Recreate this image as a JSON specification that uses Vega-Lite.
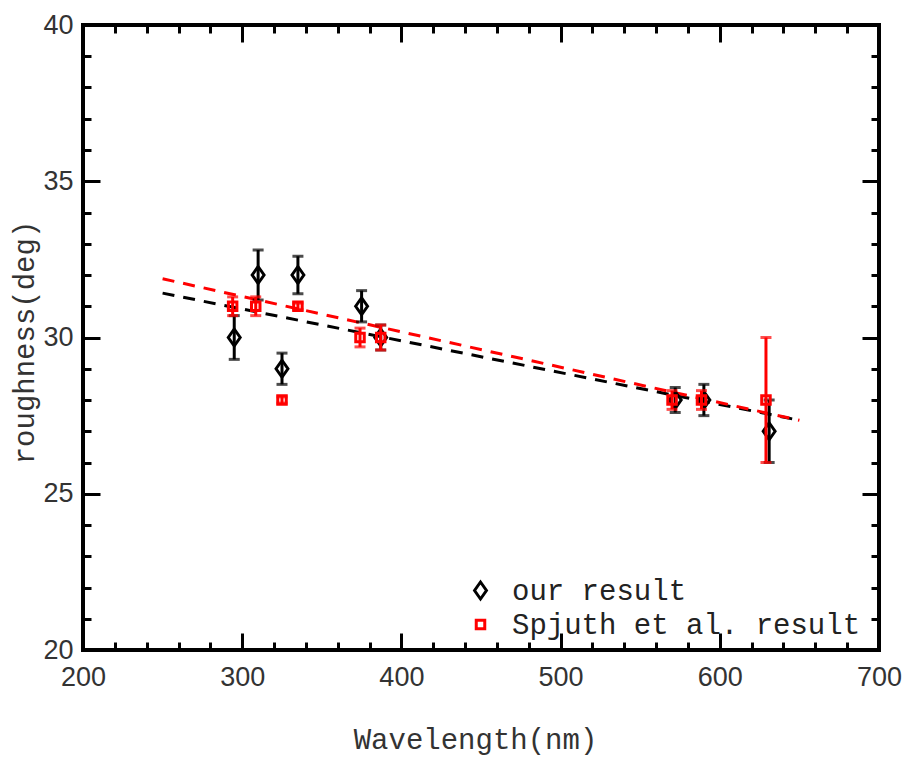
{
  "$schema": "https://vega.github.io/schema/vega-lite/v6.json",
  "width": 796,
  "height": 625,
  "autosize": {"type": "none"},
  "padding": {"left": 83, "top": 25, "right": 30, "bottom": 108},
  "background": "white",
  "config": {
    "view": {"stroke": "#000000", "strokeWidth": 4},
    "axis": {"grid": false, "domain": false, "labelFlush": false, "labelOverlap": false, "tickColor": "#000000", "tickWidth": 3, "labelFont": "Liberation Sans", "labelFontSize": 27, "labelColor": "#333333", "titleFont": "Liberation Mono", "titleFontSize": 29, "titleFontWeight": "normal", "titleColor": "#333333"},
    "legend": {"orient": "none", "legendX": 383, "legendY": 551, "padding": 0, "title": null, "labelFont": "Liberation Mono", "labelFontSize": 29, "labelColor": "#222222", "labelLimit": 0, "symbolSize": 289, "symbolStrokeWidth": 3, "labelOffset": 17, "rowPadding": 4}
  },
  "datasets": {
    "our": [
      {"series": "our result", "wl": 295, "rough": 30, "lo": 29.3, "hi": 30.7},
      {"series": "our result", "wl": 310, "rough": 32, "lo": 31.2, "hi": 32.8},
      {"series": "our result", "wl": 325, "rough": 29, "lo": 28.5, "hi": 29.5},
      {"series": "our result", "wl": 335, "rough": 32, "lo": 31.4, "hi": 32.6},
      {"series": "our result", "wl": 375, "rough": 31, "lo": 30.5, "hi": 31.5},
      {"series": "our result", "wl": 387, "rough": 30, "lo": 29.6, "hi": 30.4},
      {"series": "our result", "wl": 572, "rough": 28, "lo": 27.6, "hi": 28.4},
      {"series": "our result", "wl": 590, "rough": 28, "lo": 27.5, "hi": 28.5},
      {"series": "our result", "wl": 631, "rough": 27, "lo": 26, "hi": 28}
    ],
    "spj": [
      {"series": "Spjuth et al. result", "wl": 294, "rough": 31, "lo": 30.7, "hi": 31.3},
      {"series": "Spjuth et al. result", "wl": 308.5, "rough": 31, "lo": 30.7, "hi": 31.3},
      {"series": "Spjuth et al. result", "wl": 325, "rough": 28, "lo": 27.9, "hi": 28.1},
      {"series": "Spjuth et al. result", "wl": 335, "rough": 31, "lo": 30.9, "hi": 31.1},
      {"series": "Spjuth et al. result", "wl": 374, "rough": 30, "lo": 29.7, "hi": 30.3},
      {"series": "Spjuth et al. result", "wl": 387, "rough": 30, "lo": 29.6, "hi": 30.4},
      {"series": "Spjuth et al. result", "wl": 570, "rough": 28, "lo": 27.7, "hi": 28.3},
      {"series": "Spjuth et al. result", "wl": 588.5, "rough": 28, "lo": 27.7, "hi": 28.3},
      {"series": "Spjuth et al. result", "wl": 629, "rough": 28, "lo": 26, "hi": 30}
    ],
    "fitOur": [
      {"wl": 250, "rough": 31.42},
      {"wl": 650, "rough": 27.35}
    ],
    "fitSpj": [
      {"wl": 250, "rough": 31.88},
      {"wl": 650, "rough": 27.35}
    ]
  },
  "resolve": {"axis": {"x": "independent", "y": "independent"}},
  "layer": [
    {
      "data": {"name": "fitOur"},
      "mark": {"type": "line", "color": "#000000", "strokeWidth": 3, "strokeDash": [12, 9]},
      "encoding": {
        "x": {"field": "wl", "type": "quantitative", "scale": {"domain": [200, 700], "nice": false, "zero": false},
              "axis": {"orient": "bottom", "values": [200, 300, 400, 500, 600, 700], "ticks": false, "labelPadding": 14, "title": "Wavelength(nm)", "titleX": 392, "titleY": 98, "titleBaseline": "alphabetic", "titleAlign": "center"}},
        "y": {"field": "rough", "type": "quantitative", "scale": {"domain": [20, 40], "nice": false, "zero": false},
              "axis": {"orient": "left", "values": [20, 25, 30, 35, 40], "ticks": false, "labelPadding": 10, "title": "roughness(deg)", "titleX": -50, "titleY": 317, "titleAngle": -90, "titleBaseline": "alphabetic", "titleAlign": "center"}}
      }
    },
    {
      "data": {"name": "fitSpj"},
      "mark": {"type": "line", "color": "#ff0000", "strokeWidth": 3, "strokeDash": [12, 9]},
      "encoding": {
        "x": {"field": "wl", "type": "quantitative", "scale": {"domain": [200, 700], "nice": false, "zero": false},
              "axis": {"orient": "bottom", "values": [200, 300, 400, 500, 600, 700], "labels": false, "tickSize": -17, "title": null}},
        "y": {"field": "rough", "type": "quantitative", "scale": {"domain": [20, 40], "nice": false, "zero": false},
              "axis": {"orient": "left", "values": [20, 25, 30, 35, 40], "labels": false, "tickSize": -17, "title": null}}
      }
    },
    {
      "data": {"name": "our"},
      "mark": {"type": "rule", "color": "#000000", "strokeWidth": 3},
      "encoding": {
        "x": {"field": "wl", "type": "quantitative", "scale": {"domain": [200, 700], "nice": false, "zero": false},
              "axis": {"orient": "top", "values": [200, 300, 400, 500, 600, 700], "labels": false, "tickSize": -17, "title": null}},
        "y": {"field": "lo", "type": "quantitative", "scale": {"domain": [20, 40], "nice": false, "zero": false},
              "axis": {"orient": "right", "values": [20, 25, 30, 35, 40], "labels": false, "tickSize": -17, "title": null}},
        "y2": {"field": "hi"}
      }
    },
    {
      "data": {"name": "our"},
      "transform": [{"fold": ["lo", "hi"], "as": ["end", "val"]}],
      "mark": {"type": "tick", "orient": "horizontal", "color": "#000000", "size": 11, "thickness": 3},
      "encoding": {
        "x": {"field": "wl", "type": "quantitative", "scale": {"domain": [200, 700], "nice": false, "zero": false},
              "axis": {"orient": "bottom", "values": [200, 220, 240, 260, 280, 300, 320, 340, 360, 380, 400, 420, 440, 460, 480, 500, 520, 540, 560, 580, 600, 620, 640, 660, 680, 700], "labels": false, "tickSize": -8, "title": null}},
        "y": {"field": "val", "type": "quantitative", "scale": {"domain": [20, 40], "nice": false, "zero": false},
              "axis": {"orient": "left", "values": [20, 21, 22, 23, 24, 25, 26, 27, 28, 29, 30, 31, 32, 33, 34, 35, 36, 37, 38, 39, 40], "labels": false, "tickSize": -8, "title": null}}
      }
    },
    {
      "data": {"name": "our"},
      "mark": {"type": "point", "filled": false, "strokeWidth": 3, "size": 289, "opacity": 1},
      "encoding": {
        "x": {"field": "wl", "type": "quantitative", "scale": {"domain": [200, 700], "nice": false, "zero": false},
              "axis": {"orient": "top", "values": [200, 220, 240, 260, 280, 300, 320, 340, 360, 380, 400, 420, 440, 460, 480, 500, 520, 540, 560, 580, 600, 620, 640, 660, 680, 700], "labels": false, "tickSize": -8, "title": null}},
        "y": {"field": "rough", "type": "quantitative", "scale": {"domain": [20, 40], "nice": false, "zero": false},
              "axis": {"orient": "right", "values": [20, 21, 22, 23, 24, 25, 26, 27, 28, 29, 30, 31, 32, 33, 34, 35, 36, 37, 38, 39, 40], "labels": false, "tickSize": -8, "title": null}},
        "color": {"field": "series", "type": "nominal", "scale": {"domain": ["our result", "Spjuth et al. result"], "range": ["#000000", "#ff0000"]}},
        "shape": {"field": "series", "type": "nominal", "scale": {"domain": ["our result", "Spjuth et al. result"], "range": ["M0,-1L0.7,0L0,1L-0.7,0Z", "M-0.5,-0.5H0.5V0.5H-0.5Z"]}}
      }
    },
    {
      "data": {"name": "spj"},
      "mark": {"type": "rule", "color": "#ff0000", "strokeWidth": 3},
      "encoding": {
        "x": {"field": "wl", "type": "quantitative", "scale": {"domain": [200, 700], "nice": false, "zero": false}, "axis": null},
        "y": {"field": "lo", "type": "quantitative", "scale": {"domain": [20, 40], "nice": false, "zero": false}, "axis": null},
        "y2": {"field": "hi"}
      }
    },
    {
      "data": {"name": "spj"},
      "transform": [{"fold": ["lo", "hi"], "as": ["end", "val"]}],
      "mark": {"type": "tick", "orient": "horizontal", "color": "#ff0000", "size": 11, "thickness": 3},
      "encoding": {
        "x": {"field": "wl", "type": "quantitative", "scale": {"domain": [200, 700], "nice": false, "zero": false}, "axis": null},
        "y": {"field": "val", "type": "quantitative", "scale": {"domain": [20, 40], "nice": false, "zero": false}, "axis": null}
      }
    },
    {
      "data": {"name": "spj"},
      "mark": {"type": "point", "filled": false, "strokeWidth": 3, "size": 289, "opacity": 1},
      "encoding": {
        "x": {"field": "wl", "type": "quantitative", "scale": {"domain": [200, 700], "nice": false, "zero": false}, "axis": null},
        "y": {"field": "rough", "type": "quantitative", "scale": {"domain": [20, 40], "nice": false, "zero": false}, "axis": null},
        "color": {"field": "series", "type": "nominal", "scale": {"domain": ["our result", "Spjuth et al. result"], "range": ["#000000", "#ff0000"]}},
        "shape": {"field": "series", "type": "nominal", "scale": {"domain": ["our result", "Spjuth et al. result"], "range": ["M0,-1L0.7,0L0,1L-0.7,0Z", "M-0.5,-0.5H0.5V0.5H-0.5Z"]}}
      }
    }
  ]
}
